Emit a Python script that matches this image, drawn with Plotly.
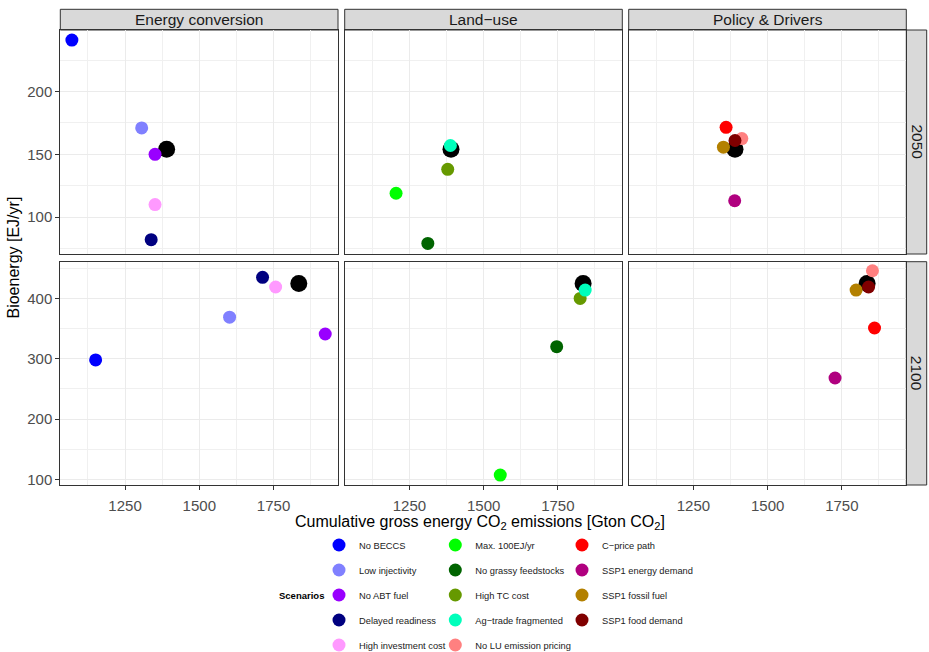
import plotly.graph_objects as go

W, H = 929, 652

# ---------------- data ----------------
scenarios = ["No BECCS", "Low injectivity", "No ABT fuel", "Delayed readiness", "High investment cost",
             "Max. 100EJ/yr", "No grassy feedstocks", "High TC cost", "Ag\u2212trade fragmented",
             "No LU emission pricing", "C\u2212price path", "SSP1 energy demand", "SSP1 fossil fuel",
             "SSP1 food demand"]
colors = ["#0000FF", "#8080FF", "#9900FF", "#000080", "#FF99FF",
          "#00FF00", "#006400", "#669900", "#00FFBB", "#FF8080",
          "#FF0000", "#B0007F", "#B38000", "#800000"]
categories = ["Energy conversion"] * 5 + ["Land\u2212use"] * 4 + ["Policy & Drivers"] * 5
x_2050 = [1071, 1306, 1351, 1338, 1351, 1205, 1312, 1379, 1388, 1413, 1360, 1389, 1351, 1390]
y_2050 = [241, 171, 150, 82, 110, 119, 79, 138, 157, 162.5, 171.5, 113, 155.7, 161]
x_2100 = [1151, 1602, 1924, 1713, 1757, 1556, 1746, 1825, 1842, 1853, 1860, 1727, 1798, 1840]
y_2100 = [298, 369, 341, 435, 419, 107, 320, 400, 414, 446, 351, 268, 414, 419]

ref_x = [1390, 1835]   # reference scenario (2050, 2100)
ref_y = [154, 425]

panels = ["Energy conversion", "Land\u2212use", "Policy & Drivers"]
years = ["2050", "2100"]
x_ticks = [1250, 1500, 1750]
x_minor = [1125, 1375, 1625, 1875]
y_ticks = [[100, 150, 200], [100, 200, 300, 400]]
y_minor = [[75, 125, 175, 225], [150, 250, 350, 450]]

# ---------------- layout geometry (px) ----------------
col_l = [60.3, 344.7, 628.7]
col_r = [338.0, 622.3, 906.3]
row_t = [30.0, 261.7]
row_b = [254.0, 485.0]
x_range = [1032, 1967]
y_ranges = [[70.6, 249.0], [90.5, 461.0]]


def fx(p):
    return p / W


def fy(p):
    return 1 - p / H


FONT = "Liberation Sans, Arial, sans-serif"
fig = go.Figure()

# reference (black) points first
for r in range(2):
    for c in range(3):
        i = r * 3 + c + 1
        fig.add_trace(go.Scatter(
            x=[ref_x[r]], y=[ref_y[r]], mode="markers",
            marker=dict(color="black", size=17, line=dict(width=0)),
            xaxis="x" if i == 1 else f"x{i}", yaxis="y" if i == 1 else f"y{i}",
            showlegend=False, hoverinfo="skip"))

legend_names = ["legend", "legend2", "legend3"]
for k, name in enumerate(scenarios):
    c = panels.index(categories[k])
    for r in range(2):
        i = r * 3 + c + 1
        xs = x_2050 if r == 0 else x_2100
        ys = y_2050 if r == 0 else y_2100
        fig.add_trace(go.Scatter(
            x=[xs[k]], y=[ys[k]], mode="markers", name=name,
            marker=dict(color=colors[k], size=13, line=dict(width=0)),
            xaxis="x" if i == 1 else f"x{i}", yaxis="y" if i == 1 else f"y{i}",
            legendgroup=name, showlegend=(r == 0),
            legend=legend_names[k // 5]))

layout = dict(
    width=W, height=H, margin=dict(l=0, r=0, t=0, b=0, autoexpand=False),
    paper_bgcolor="white", plot_bgcolor="white",
    font=dict(family=FONT, color="#1A1A1A"),
)

for r in range(2):
    for c in range(3):
        i = r * 3 + c + 1
        sx = "" if i == 1 else str(i)
        layout[f"xaxis{sx}"] = dict(
            domain=[fx(col_l[c]), fx(col_r[c])], range=x_range, anchor=f"y{sx}",
            tickvals=x_ticks, showgrid=True, gridcolor="#EBEBEB", gridwidth=1,
            minor=dict(tickvals=x_minor, showgrid=True, gridcolor="#F0F0F0", gridwidth=0.6),
            showline=True, mirror=True, linecolor="#333333", linewidth=1, zeroline=False,
            ticks="outside" if r == 1 else "", ticklen=4, tickcolor="#333333",
            ticklabelstandoff=3,
            showticklabels=(r == 1), tickfont=dict(size=15, color="#4D4D4D", family=FONT))
        layout[f"yaxis{sx}"] = dict(
            domain=[fy(row_b[r]), fy(row_t[r])], range=y_ranges[r], anchor=f"x{sx}",
            tickvals=y_ticks[r], showgrid=True, gridcolor="#EBEBEB", gridwidth=1,
            minor=dict(tickvals=y_minor[r], showgrid=True, gridcolor="#F0F0F0", gridwidth=0.6),
            showline=True, mirror=True, linecolor="#333333", linewidth=1, zeroline=False,
            ticks="outside" if c == 0 else "", ticklen=4, tickcolor="#333333",
            showticklabels=(c == 0), tickfont=dict(size=15, color="#4D4D4D", family=FONT))

shapes = []
annotations = []
for c in range(3):
    shapes.append(dict(type="rect", xref="paper", yref="paper",
                       x0=fx(col_l[c]), x1=fx(col_r[c]), y0=fy(30.0), y1=fy(9.3),
                       fillcolor="#D9D9D9", line=dict(color="#333333", width=1), layer="below"))
    annotations.append(dict(text=panels[c], xref="paper", yref="paper",
                            x=fx((col_l[c] + col_r[c]) / 2), y=fy(19.7), showarrow=False,
                            font=dict(size=15.5, color="#1A1A1A", family=FONT),
                            xanchor="center", yanchor="middle"))
for r in range(2):
    shapes.append(dict(type="rect", xref="paper", yref="paper",
                       x0=fx(906.3), x1=fx(926.7), y0=fy(row_b[r]), y1=fy(row_t[r]),
                       fillcolor="#D9D9D9", line=dict(color="#333333", width=1), layer="below"))
    annotations.append(dict(text=years[r], xref="paper", yref="paper",
                            x=fx(916.5), y=fy((row_t[r] + row_b[r]) / 2), showarrow=False,
                            textangle=90, font=dict(size=15.5, color="#1A1A1A", family=FONT),
                            xanchor="center", yanchor="middle"))

annotations.append(dict(text="Cumulative gross energy CO<sub>2</sub> emissions [Gton CO<sub>2</sub>]",
                        xref="paper", yref="paper", x=fx(480), y=fy(522), showarrow=False,
                        font=dict(size=16, color="black", family=FONT),
                        xanchor="center", yanchor="middle"))
annotations.append(dict(text="Bioenergy [EJ/yr]", xref="paper", yref="paper",
                        x=fx(13), y=fy(257.5), showarrow=False, textangle=-90,
                        font=dict(size=16, color="black", family=FONT),
                        xanchor="center", yanchor="middle"))
annotations.append(dict(text="<b>Scenarios</b>", xref="paper", yref="paper",
                        x=fx(326), y=fy(595.7), showarrow=False,
                        font=dict(size=9.5, color="black", family=FONT),
                        xanchor="right", yanchor="middle"))

legend_x = [319, 435.3, 562]
for j, ln in enumerate(legend_names):
    layout[ln] = dict(x=fx(legend_x[j]), y=fy(530.5), xanchor="left", yanchor="top",
                      orientation="v", bgcolor="rgba(0,0,0,0)", borderwidth=0,
                      tracegroupgap=6, traceorder="grouped",
                      font=dict(size=9.3, color="#1A1A1A", family=FONT))

layout["shapes"] = shapes
layout["annotations"] = annotations
fig.update_layout(**layout)

fig.write_html("out.html", config={"displayModeBar": False},
               post_script="document.body.style.margin='0px';document.body.style.overflow='hidden';")
